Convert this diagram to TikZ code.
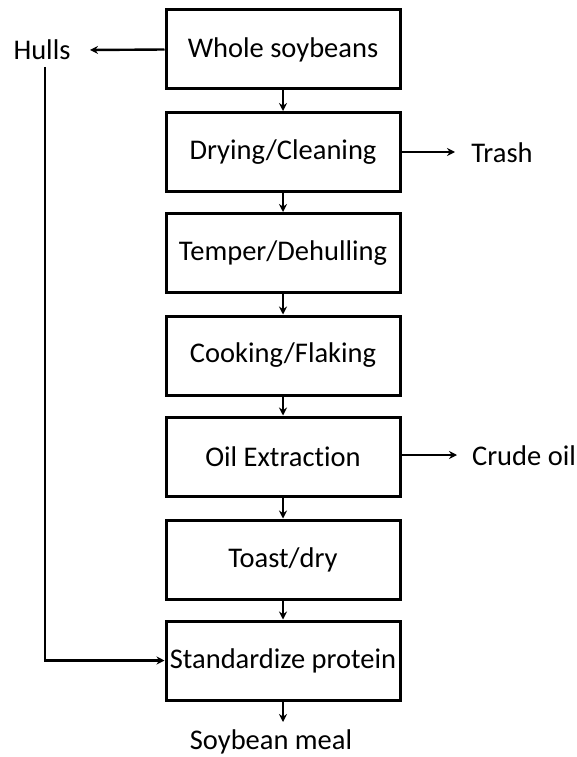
\documentclass[tikz,border=0pt]{standalone}
\usepackage{fontspec}
\setmainfont{Carlito}[Ligatures=NoCommon]
\usetikzlibrary{arrows.meta}
\begin{document}
\begin{tikzpicture}[x=1pt,y=-1pt,
  stepbox/.style={draw,line width=3pt,minimum width=234pt,minimum height=79pt,inner sep=0pt,font=\fontsize{28.5}{32}\selectfont},
  lbl/.style={inner sep=0pt,font=\fontsize{28.5}{32}\selectfont},
  conn/.style={line width=2.4pt,-{Stealth[length=8pt,width=8pt]}}]
\useasboundingbox (0,0) rectangle (577,757);
\node[stepbox] (b1) at (283,49.5) {Whole soybeans\hspace{16pt}};
\node[stepbox] (b2) at (283,152) {Drying/Cleaning};
\node[stepbox] (b3) at (283,253) {Temper/Dehulling};
\node[stepbox] (b4) at (283,355.5) {Cooking/Flaking};
\node[stepbox] (b5) at (283,456.5) {Oil Extraction};
\node[stepbox] (b6) at (283,559.5) {Toast/dry};
\node[stepbox] (b7) at (283,660.5) {Standardize protein};
\node[lbl] (hulls) at (42,50) {Hulls};
\node[lbl] (trash) at (502,153) {Trash};
\node[lbl] (oil) at (524,456) {Crude oil};
\node[lbl] (meal) at (271,742) {Soybean meal};
\coordinate (hend) at (90,50);
\coordinate (hstart) at (45,67);
\coordinate (tend) at (455,152);
\coordinate (oend) at (457,455);
\coordinate (mend) at (283,722);
\draw[conn] (b1.west) -- (hend);
\draw[conn] (b2.east |- tend) -- (tend);
\draw[conn] (b5.east |- oend) -- (oend);
\draw[conn] (b1) -- (b2);
\draw[conn] (b2) -- (b3);
\draw[conn] (b3) -- (b4);
\draw[conn] (b4) -- (b5);
\draw[conn] (b5) -- (b6);
\draw[conn] (b6) -- (b7);
\draw[conn] (b7) -- (mend);
\draw[conn] (hstart) |- (b7.west);
\end{tikzpicture}
\end{document}
